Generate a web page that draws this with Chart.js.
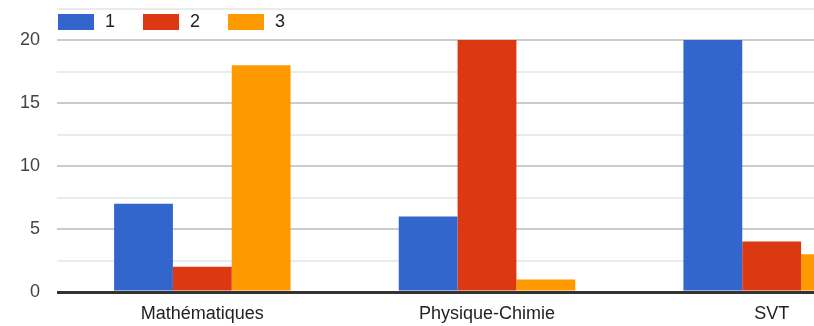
<!DOCTYPE html>
<html>
<head>
<meta charset="utf-8">
<script src="https://cdn.jsdelivr.net/npm/chart.js@4.4.0/dist/chart.umd.min.js"></script>
<style>
    html, body { margin: 0; padding: 0; background: #fff; overflow: hidden; }
    #zone { position: relative; width: 914px; height: 326px; }
</style>
</head>
<body>
<div id="zone"><canvas id="grafico"></canvas></div>
<script>
const categorias = ['Mathématiques', 'Physique-Chimie', 'SVT'];
const series = ['1', '2', '3'];
const serie1 = [7, 6, 20];
const serie2 = [2, 20, 4];
const serie3 = [18, 1, 3];
const ticksY = [0, 5, 10, 15, 20];

const colores = ['#3366cc', '#dc3912', '#ff9900'];
const fuente = 'Arial, "Liberation Sans", sans-serif';

// leyenda dibujada encima del area del grafico, como en el original
const leyenda = {
    id: 'leyenda',
    afterDraw(chart) {
        const ctx = chart.ctx;
        ctx.save();
        ctx.font = '18px ' + fuente;
        ctx.textBaseline = 'middle';
        ctx.textAlign = 'left';
        let x = 58;
        chart.data.datasets.forEach(ds => {
            ctx.fillStyle = ds.backgroundColor;
            ctx.fillRect(x, 14, 36, 16);
            ctx.fillStyle = '#222';
            ctx.fillText(ds.label, x + 47, 22);
            x += 47 + ctx.measureText(ds.label).width + 28;
        });
        ctx.restore();
    }
};

new Chart(document.getElementById('grafico'), {
    type: 'bar',
    data: {
        labels: categorias,
        datasets: [
            { label: series[0], data: serie1, backgroundColor: colores[0] },
            { label: series[1], data: serie2, backgroundColor: colores[1] },
            { label: series[2], data: serie3, backgroundColor: colores[2] }
        ]
    },
    options: {
        responsive: true,
        maintainAspectRatio: false,
        animation: false,
        layout: { padding: { top: 8.5, right: 0, bottom: 0, left: 0 } },
        categoryPercentage: 0.62,
        barPercentage: 1,
        scales: {
            x: {
                grid: { display: false, drawTicks: false },
                border: { display: false },
                ticks: { color: '#222', font: { family: fuente, size: 18 }, padding: 11, maxRotation: 0 },
                afterFit: scale => { scale.height = 34; }
            },
            y: {
                min: 0,
                max: 22.5,
                border: { display: false },
                grid: {
                    drawTicks: true,
                    tickLength: 3,
                    color: c => c.tick.value === 0 ? '#333333' : (c.tick.value % 5 === 0 ? '#cccccc' : '#ebebeb'),
                    lineWidth: c => c.tick.value === 0 ? 3 : 2
                },
                ticks: {
                    stepSize: 2.5,
                    autoSkip: false,
                    padding: 17,
                    color: '#444',
                    font: { family: fuente, size: 18 },
                    callback: v => ticksY.includes(v) ? String(v) : ''
                },
                afterFit: scale => {
                    scale.width = 60;
                    scale.paddingTop = 0;
                    scale.paddingBottom = 0;
                }
            }
        },
        plugins: {
            legend: { display: false },
            tooltip: { enabled: false }
        }
    },
    plugins: [leyenda]
});
</script>
</body>
</html>
